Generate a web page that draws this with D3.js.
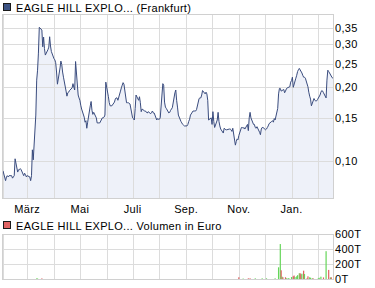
<!DOCTYPE html>
<html>
<head>
<meta charset="utf-8">
<script src="https://cdn.jsdelivr.net/npm/d3@7"></script>
<style>
  body { margin: 0; background: #fff; }
  text { font-family: "Liberation Sans", Arial, sans-serif; font-size: 11px; letter-spacing: 0.3px; fill: #000; }
</style>
</head>
<body>
<svg id="chart" width="375" height="288"></svg>
<script>
var width = 375,
    height = 288;

var title = "EAGLE HILL EXPLO... (Frankfurt)";
var volumeTitle = "EAGLE HILL EXPLO... Volumen in Euro";

// trading days (Mon-Fri) from firstDay to lastDay, one closing price each
var firstDay = "2013-02-01",
    lastDay = "2014-02-18";
var prices = [
    0.091,
    0.083, 0.086, 0.087, 0.086, 0.087,
    0.087, 0.085, 0.086, 0.087, 0.102,
    0.090, 0.092, 0.092, 0.093, 0.092,
    0.087, 0.089, 0.088, 0.086, 0.087,
    0.086, 0.083, 0.087, 0.111, 0.101,
    0.154, 0.214, 0.235, 0.276, 0.352,
    0.343, 0.293, 0.321, 0.288, 0.271,
    0.285, 0.292, 0.322, 0.295, 0.280,
    0.262, 0.259, 0.252, 0.231, 0.206,
    0.240, 0.256, 0.248, 0.231, 0.220,
    0.193, 0.184, 0.190, 0.191, 0.194,
    0.199, 0.207, 0.200, 0.195, 0.255,
    0.186, 0.181, 0.177, 0.169, 0.163,
    0.151, 0.144, 0.146, 0.136, 0.144,
    0.168, 0.175, 0.161, 0.155, 0.158,
    0.150, 0.143, 0.143, 0.143, 0.143,
    0.150, 0.150, 0.151, 0.154, 0.210,
    0.183, 0.173, 0.168, 0.168, 0.168,
    0.174, 0.179, 0.181, 0.181, 0.177,
    0.193, 0.199, 0.204, 0.209, 0.206,
    0.173, 0.173, 0.173, 0.172, 0.171,
    0.150, 0.149, 0.147, 0.164, 0.186,
    0.177, 0.183, 0.173, 0.159, 0.163,
    0.160, 0.160, 0.158, 0.157, 0.159,
    0.156, 0.158, 0.160, 0.157, 0.157,
    0.147, 0.149, 0.148, 0.148, 0.150,
    0.207, 0.204, 0.174, 0.166, 0.164,
    0.157, 0.158, 0.161, 0.163, 0.165,
    0.190, 0.195, 0.177, 0.166, 0.154,
    0.145, 0.143, 0.141, 0.140, 0.139,
    0.139, 0.141, 0.145, 0.148, 0.154,
    0.160, 0.160, 0.160, 0.160, 0.162,
    0.180, 0.181, 0.181, 0.186, 0.194,
    0.188, 0.191, 0.188, 0.177, 0.147,
    0.150, 0.141, 0.159, 0.145, 0.137,
    0.147, 0.158, 0.145, 0.139, 0.135,
    0.130, 0.136, 0.135, 0.134, 0.134,
    0.135, 0.135, 0.134, 0.132, 0.136,
    0.116, 0.120, 0.123, 0.122, 0.127,
    0.137, 0.137, 0.136, 0.137, 0.135,
    0.141, 0.133, 0.150, 0.158, 0.150,
    0.141, 0.141, 0.137, 0.136, 0.138,
    0.131, 0.128, 0.135, 0.137, 0.137,
    0.134, 0.135, 0.137, 0.139, 0.142,
    0.145, 0.146, 0.144, 0.149, 0.147,
    0.164, 0.188, 0.198, 0.198, 0.193,
    0.196, 0.190, 0.193, 0.197, 0.199,
    0.201, 0.210, 0.213, 0.220, 0.200,
    0.218, 0.224, 0.232, 0.236, 0.239,
    0.229, 0.224, 0.220, 0.220, 0.218,
    0.201, 0.191, 0.184, 0.179, 0.168,
    0.180, 0.177, 0.176, 0.176, 0.178,
    0.186, 0.191, 0.194, 0.193, 0.190,
    0.181, 0.214, 0.235, 0.232, 0.229,
    0.219, 0.218
];
var priceTicks = [0.10, 0.15, 0.20, 0.25, 0.30, 0.35];

// volume in euro (only days with turnover), up = green, down = red
var volumeDates = [
    "2013-03-12", "2013-03-13", "2013-03-18", "2013-11-01", "2013-11-06",
    "2013-11-12", "2013-11-14", "2013-11-20", "2013-11-28", "2013-12-03",
    "2013-12-13", "2013-12-17", "2013-12-19", "2013-12-20", "2013-12-21",
    "2013-12-22", "2013-12-25", "2013-12-26", "2013-12-28", "2013-12-29",
    "2014-01-01", "2014-01-03", "2014-01-04", "2014-01-05", "2014-01-07",
    "2014-01-08", "2014-01-10", "2014-01-11", "2014-01-12", "2014-01-13",
    "2014-01-15", "2014-01-16", "2014-01-19", "2014-01-20", "2014-01-22",
    "2014-01-23", "2014-01-25", "2014-01-26", "2014-02-01", "2014-02-02",
    "2014-02-04", "2014-02-07", "2014-02-10", "2014-02-13", "2014-02-15",
    "2014-02-16"
];
var volumeValues = [
    12000, 10000, 12000, 27000, 10000,
    13000, 13000, 13000, 13000, 13000,
    13000, 160000, 470000, 120000, 35000,
    27000, 27000, 13000, 15000, 13000,
    30000, 40000, 50000, 30000, 40000,
    55000, 80000, 80000, 65000, 75000,
    115000, 70000, 13000, 40000, 27000,
    20000, 13000, 13000, 13000, 20000,
    35000, 25000, 375000, 125000, 25000,
    27000
];
var volumeUp = [
    1, 1, 0, 0, 1,
    0, 0, 1, 1, 1,
    1, 1, 1, 0, 1,
    0, 0, 1, 1, 1,
    1, 0, 0, 1, 1,
    1, 1, 0, 0, 1,
    0, 1, 0, 0, 1,
    1, 1, 0, 1, 1,
    1, 0, 1, 0, 1,
    0
];
var volumeTicks = [0, 200000, 400000, 600000];

var de = d3.timeFormatLocale({
    dateTime: "%A, %e. %B %Y, %X", date: "%d.%m.%Y", time: "%H:%M:%S",
    periods: ["AM", "PM"],
    days: ["Sonntag", "Montag", "Dienstag", "Mittwoch", "Donnerstag", "Freitag", "Samstag"],
    shortDays: ["So", "Mo", "Di", "Mi", "Do", "Fr", "Sa"],
    months: ["Januar", "Februar", "März", "April", "Mai", "Juni", "Juli", "August", "September", "Oktober", "November", "Dezember"],
    shortMonths: ["Jan.", "Feb.", "März", "Apr.", "Mai", "Juni", "Juli", "Aug.", "Sep.", "Okt.", "Nov.", "Dez."]
});
var deNum = d3.formatLocale({ decimal: ",", thousands: ".", grouping: [3], currency: ["", " €"] });
var fmtPrice = deNum.format(".2f");
var fmtMonth = de.utcFormat("%b");

var parseDay = d3.utcParse("%Y-%m-%d");
var start = parseDay(firstDay),
    end = parseDay(lastDay);
var tradingDays = d3.utcDay.range(start, d3.utcDay.offset(end, 1)).filter(function (d) {
    return d.getUTCDay() % 6 !== 0;
});
var priceData = prices.map(function (p, i) {
    return { date: tradingDays[i], value: p };
});
var volumeData = volumeDates.map(function (d, i) {
    return { date: parseDay(d), value: volumeValues[i], up: volumeUp[i] };
});

// layout
var left = 2.5, right = 333.5;
var priceTop = 14.5, priceBottom = 198.5;
var volTop = 234.5, volBottom = 279.5;

var x = d3.scaleUtc().domain([start, end]).range([3, 333]);
var y = d3.scaleLog().domain([0.0703, 0.399]).range([198.3, 14]);
var yVol = d3.scaleLinear().domain([0, 600000]).range([279.3, 234.3]);
var months = d3.utcMonth.range(d3.utcMonth.ceil(start), end);

var crisp = function (v) { return Math.round(v) + 0.5; };
var gridColor = "#dcdcdc";

var svg = d3.select("#chart");

// ---- price panel ----
svg.append("rect")
    .attr("x", left).attr("y", priceTop)
    .attr("width", right - left).attr("height", priceBottom - priceTop)
    .attr("fill", "#fff");

var area = d3.area()
    .x(function (d) { return x(d.date); })
    .y0(priceBottom)
    .y1(function (d) { return y(d.value); });
svg.append("path")
    .datum(priceData)
    .attr("d", area)
    .attr("fill", "#eef1f9");

svg.append("g")
    .selectAll("line")
    .data(months)
    .join("line")
    .attr("x1", function (d) { return crisp(x(d)); })
    .attr("x2", function (d) { return crisp(x(d)); })
    .attr("y1", priceTop)
    .attr("y2", priceBottom)
    .attr("stroke", gridColor);

svg.append("g")
    .selectAll("line")
    .data(priceTicks)
    .join("line")
    .attr("x1", left)
    .attr("x2", right)
    .attr("y1", function (d) { return crisp(y(d)); })
    .attr("y2", function (d) { return crisp(y(d)); })
    .attr("stroke", gridColor);

var line = d3.line()
    .x(function (d) { return x(d.date); })
    .y(function (d) { return y(d.value); });
svg.append("path")
    .datum(priceData)
    .attr("d", line)
    .attr("fill", "none")
    .attr("stroke", "#3a4c7e")
    .attr("stroke-width", 1)
    .attr("stroke-linejoin", "round");

svg.append("rect")
    .attr("x", left).attr("y", priceTop)
    .attr("width", right - left).attr("height", priceBottom - priceTop)
    .attr("fill", "none")
    .attr("stroke", "#d0d0d0");

svg.append("g")
    .selectAll("text")
    .data(priceTicks)
    .join("text")
    .attr("x", 335)
    .attr("y", function (d) { return y(d) + 4; })
    .text(fmtPrice);

svg.append("g")
    .selectAll("text")
    .data(months.filter(function (d) { return d.getUTCMonth() % 2 === 0; }))
    .join("text")
    .attr("x", function (d) { return x(d); })
    .attr("y", 212.5)
    .attr("text-anchor", "middle")
    .text(fmtMonth);

// legend
svg.append("rect")
    .attr("x", 3.5).attr("y", 3.5).attr("width", 7).attr("height", 7)
    .attr("fill", "#3c5283").attr("stroke", "#1a1a1a");
svg.append("text").attr("x", 16).attr("y", 11.5).text(title);

// ---- volume panel ----
svg.append("rect")
    .attr("x", 3.5).attr("y", 221.5).attr("width", 7).attr("height", 7)
    .attr("fill", "#e06464").attr("stroke", "#1a1a1a");
svg.append("text").attr("x", 16).attr("y", 229.5).text(volumeTitle);

svg.append("g")
    .selectAll("line")
    .data(months)
    .join("line")
    .attr("x1", function (d) { return crisp(x(d)); })
    .attr("x2", function (d) { return crisp(x(d)); })
    .attr("y1", volTop)
    .attr("y2", volBottom)
    .attr("stroke", gridColor);

svg.append("g")
    .selectAll("line")
    .data(volumeTicks.slice(1, -1))
    .join("line")
    .attr("x1", left)
    .attr("x2", right)
    .attr("y1", function (d) { return crisp(yVol(d)); })
    .attr("y2", function (d) { return crisp(yVol(d)); })
    .attr("stroke", gridColor);

svg.append("g")
    .selectAll("rect")
    .data(volumeData)
    .join("rect")
    .attr("x", function (d) { return x(d.date) - 0.6; })
    .attr("width", 1.2)
    .attr("y", function (d) { return yVol(d.value); })
    .attr("height", function (d) { return yVol(0) - yVol(d.value); })
    .attr("fill", function (d) { return d.up ? "#66d65a" : "#e06060"; });

svg.append("rect")
    .attr("x", left).attr("y", volTop)
    .attr("width", right - left).attr("height", volBottom - volTop)
    .attr("fill", "none")
    .attr("stroke", "#d0d0d0");

svg.append("g")
    .selectAll("text")
    .data(volumeTicks)
    .join("text")
    .attr("x", 335)
    .attr("y", function (d) { return yVol(d) + 4; })
    .text(function (d) { return d / 1000 + "T"; });
</script>
</body>
</html>
